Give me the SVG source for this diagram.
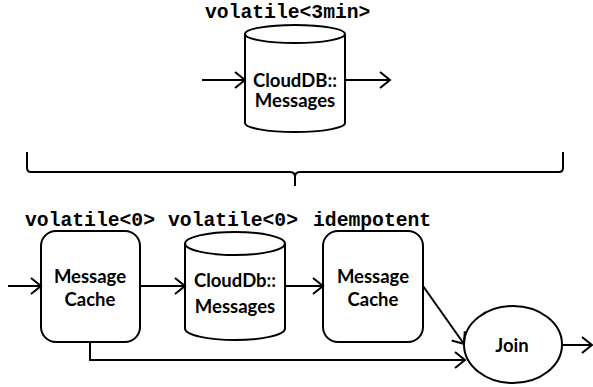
<svg xmlns="http://www.w3.org/2000/svg" width="593" height="387" viewBox="0 0 593 387">
<style>
.s{fill:#fff;stroke:#000;stroke-width:2}
.c{fill:none;stroke:#000;stroke-width:2}
.t{font-family:Lato,"Liberation Sans",sans-serif;font-weight:bold;font-size:18.5px;text-anchor:middle;fill:#000}
.m{font-family:"Liberation Mono","Courier New",monospace;font-weight:bold;font-size:19.7px;fill:#000}
</style>
<defs>
<marker id="a" markerUnits="userSpaceOnUse" markerWidth="14" markerHeight="20" refX="12" refY="10" orient="auto" overflow="visible">
<polyline points="2,2 12,10 2,18" fill="none" stroke="#000" stroke-width="2"/>
</marker>
</defs>
<text class="m" x="205" y="18">volatile&lt;3min&gt;</text>
<g id="top-db">
<path class="s" d="M245,34 V123 A50,9 0 0 0 345,123 V34"/>
<ellipse class="s" cx="295" cy="34" rx="50" ry="9"/>
<text class="t" x="295" y="87">CloudDB::</text>
<text class="t" x="295" y="107">Messages</text>
</g>
<g id="brace">
<path class="c" d="M27,152 V168 Q27,172 31,172 H290 Q295,172 295,177 V186 M295,177 Q295,172 300,172 H559 Q563,172 563,168 V152"/>
</g>
<text class="m" x="25" y="226">volatile&lt;0&gt;</text>
<text class="m" x="168" y="226">volatile&lt;0&gt;</text>
<text class="m" x="313" y="226">idempotent</text>
<g id="cache1">
<rect class="s" x="41" y="231" width="99" height="111" rx="15"/>
<text class="t" x="90" y="283">Message</text>
<text class="t" x="90" y="306">Cache</text>
</g>
<g id="db2">
<path class="s" d="M185,243.5 V328.5 A50,11.5 0 0 0 285,328.5 V243.5"/>
<ellipse class="s" cx="235" cy="243.5" rx="50" ry="11.5"/>
<text class="t" x="235" y="287">CloudDb::</text>
<text class="t" x="235" y="313">Messages</text>
</g>
<g id="cache2">
<rect class="s" x="323" y="231" width="100" height="111" rx="15"/>
<text class="t" x="373" y="283">Message</text>
<text class="t" x="373" y="306">Cache</text>
</g>
<g id="join">
<ellipse class="s" cx="513" cy="344.5" rx="49" ry="38.5"/>
<text class="t" x="512" y="352">Join</text>
</g>
<g id="connectors">
<line class="c" x1="202" y1="80" x2="245" y2="80" marker-end="url(#a)"/>
<line class="c" x1="345" y1="80" x2="390" y2="80" marker-end="url(#a)"/>
<line class="c" x1="8" y1="286" x2="41" y2="286" marker-end="url(#a)"/>
<line class="c" x1="140" y1="286" x2="185" y2="286" marker-end="url(#a)"/>
<line class="c" x1="285" y1="286" x2="323" y2="286" marker-end="url(#a)"/>
<line class="c" x1="423" y1="286" x2="464" y2="344" marker-end="url(#a)"/>
<polyline class="c" points="90,342 90,360 465,360" marker-end="url(#a)"/>
<line class="c" x1="562" y1="345" x2="592" y2="345" marker-end="url(#a)"/>
</g>
</svg>
